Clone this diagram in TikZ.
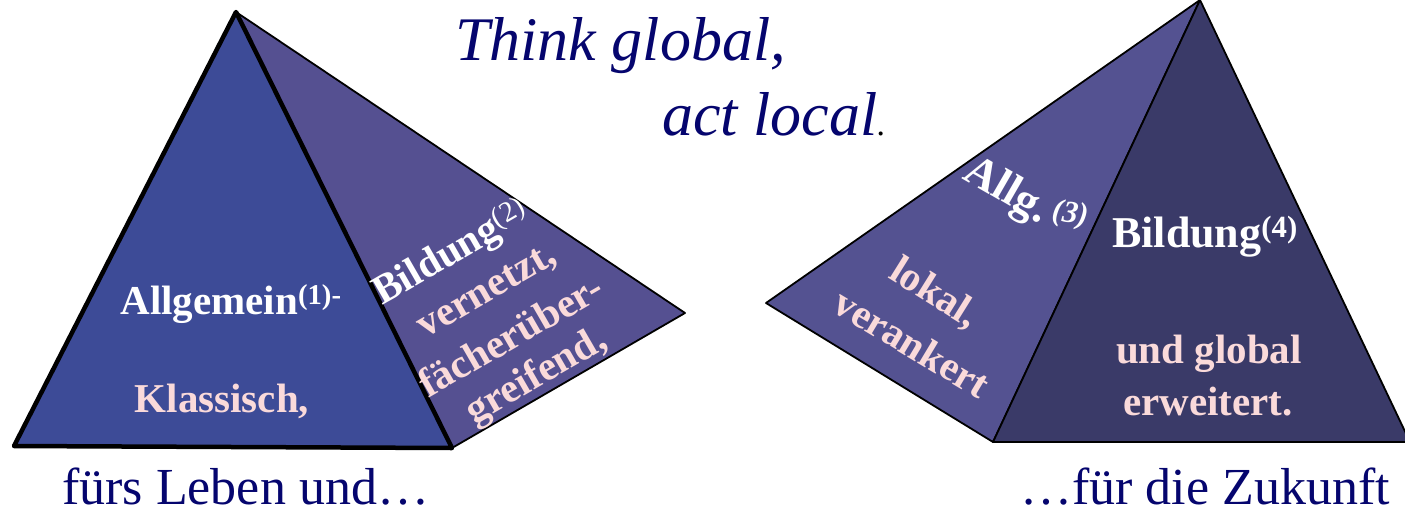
\documentclass[tikz,border=0pt]{standalone}
\usepackage{fontspec}
\setmainfont{Liberation Serif}
\definecolor{frontL}{RGB}{61,75,151}
\definecolor{sideL}{RGB}{85,80,145}
\definecolor{sideR}{RGB}{84,82,145}
\definecolor{frontR}{RGB}{58,58,104}
\definecolor{pinktxt}{RGB}{250,218,218}
\definecolor{navy}{RGB}{5,5,110}
\begin{document}
\begin{tikzpicture}[x=1pt,y=-1pt,
  facethin/.style={draw=black,line width=1.8pt,line join=round},
  facethick/.style={draw=black,line width=4.5pt,line join=round},
  wlbl/.style={text=white,font=\bfseries\fontsize{41}{46}\selectfont,inner sep=0pt},
  plbl/.style={text=pinktxt,font=\bfseries\fontsize{41}{46}\selectfont,inner sep=0pt},
  title/.style={text=navy,font=\itshape\fontsize{62}{70}\selectfont,inner sep=0pt,anchor=base west},
  caption/.style={text=navy,font=\fontsize{52}{60}\selectfont,inner sep=0pt,anchor=base west}]
\useasboundingbox (0,0) rectangle (1405,512);
% left pyramid
\coordinate (LA) at (236,12);
\coordinate (LL) at (14,446);
\coordinate (LB) at (452,448);
\coordinate (LR) at (685,313);
\fill[sideL] (LA)--(LR)--(LB)--cycle;
\draw[facethin] (LA)--(LR)--(LB);
\filldraw[fill=frontL,facethick] (LL)--(LA)--(LB)--cycle;
% right pyramid
\coordinate (RA) at (1200,0);
\coordinate (RL) at (766,303);
\coordinate (RB) at (993,442);
\coordinate (RR) at (1410,442);
\filldraw[fill=sideR,facethin] (RA)--(RL)--(RB)--cycle;
\filldraw[fill=frontR,facethin] (RA)--(RB)--(RR)--cycle;
\draw[black,line width=2.6pt] (RB)--(RR);
% title
\node[title] (t1) at (455,60) {Think global,};
\node[title] (t2) at (662,135) {act local\textcolor{black}{\fontsize{34}{34}\selectfont.}};
% captions
\node[caption] (c1) at (62,504) {fürs Leben und…};
\node[caption] (c2) at (1020,504) {…für die Zukunft};
% left front labels
\node[wlbl,anchor=base] (a1) at (231,314) {Allgemein\textsuperscript{(1)-}};
\node[plbl,anchor=base] (k1) at (222,412) {Klassisch,};
% left side labels
\node[wlbl,rotate=30] (b2) at (452,254) {Bildung\textsuperscript{\mdseries(2)}};
\node[plbl,rotate=30] (v2) at (488,293) {vernetzt,};
\node[plbl,rotate=30] (f2) at (510,335) {fächerüber-};
\node[plbl,rotate=30] (g2) at (537,377) {greifend,};
% right side labels
\node[wlbl,rotate=-30,font=\bfseries\fontsize{45}{48}\selectfont] (a3) at (1006,192) {Allg.};
\node[wlbl,font=\bfseries\itshape\fontsize{31}{33}\selectfont,rotate=-8] (n3) at (1070,215) {(3)};
\node[plbl,rotate=-32] (l3) at (934,294) {lokal,};
\node[plbl,rotate=-31] (v3) at (912,343) {verankert};
% right front labels
\node[wlbl,anchor=base,font=\bfseries\fontsize{44}{48}\selectfont] (b4) at (1205,247) {Bildung\textsuperscript{(4)}};
\node[plbl,anchor=base] (u4) at (1209,363) {und global};
\node[plbl,anchor=base] (e4) at (1208,415) {erweitert.};
\end{tikzpicture}
\end{document}
